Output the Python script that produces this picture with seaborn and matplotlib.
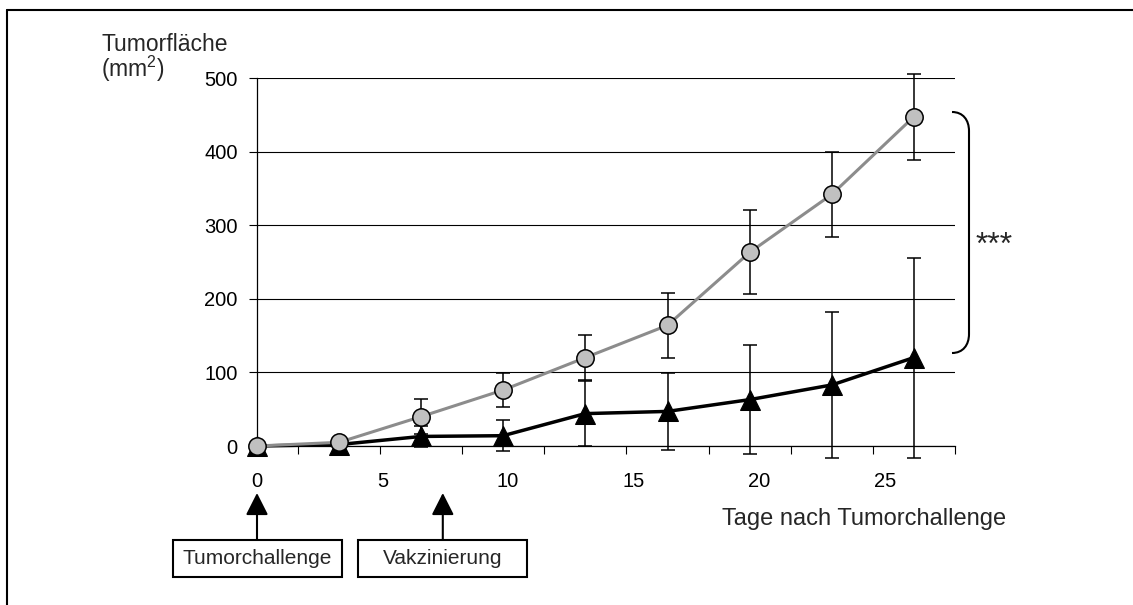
import numpy as np
import pandas as pd
import matplotlib
matplotlib.use("Agg")
import matplotlib.pyplot as plt
import seaborn as sns
from matplotlib.patches import Rectangle, PathPatch, FancyArrowPatch
from matplotlib.path import Path
from matplotlib.lines import Line2D

# Messtage (Tage nach Tumorchallenge) und Tumorflächen in mm² (Mittelwert ± SD)
messtage = [0.0, 3.27, 6.54, 9.8, 13.07, 16.35, 19.62, 22.9, 26.15]
kontrolle_mittel = [0, 5, 40, 76, 120, 164, 263, 342, 447]
kontrolle_sd = [0, 3, 24, 23, 31, 44, 57, 58, 58]
vakziniert_mittel = [0, 2, 13, 14, 44, 47, 63, 83, 120]
vakziniert_sd = [0, 1, 14, 21, 44, 52, 74, 99, 136]

tag_ticks = [0, 5, 10, 15, 20, 25]
flaeche_ticks = [0, 100, 200, 300, 400, 500]

ereignisse = ["Tumorchallenge", "Vakzinierung"]
ereignis_tage = [0, 7.4]

sns.set_theme(style="white")
plt.rcParams["font.family"] = ["Liberation Sans", "DejaVu Sans"]
plt.rcParams["mathtext.fontset"] = "custom"
plt.rcParams["mathtext.rm"] = "Liberation Sans"
plt.rcParams["mathtext.it"] = "Liberation Sans:italic"
plt.rcParams["mathtext.bf"] = "Liberation Sans:bold"

W, H = 1133, 605
fig = plt.figure(figsize=(W / 100, H / 100), dpi=100)
fig.patch.set_facecolor("white")


def fx(x):
    return x / W


def fy(y):
    return 1 - y / H


ax = fig.add_axes([fx(257), fy(446), (955 - 257) / W, (446 - 78) / H])
ax.set_facecolor("white")

df = pd.DataFrame({
    "Tag": messtage * 2,
    "Fläche": kontrolle_mittel + vakziniert_mittel,
    "Gruppe": ["Kontrolle"] * len(messtage) + ["vakziniert"] * len(messtage),
})

# Fehlerbalken unter den Linien und Markern
for mittel, sd in [(vakziniert_mittel, vakziniert_sd), (kontrolle_mittel, kontrolle_sd)]:
    eb = ax.errorbar(messtage, mittel, yerr=sd, fmt="none", ecolor="black",
                     elinewidth=1.1, capsize=5.2, capthick=1.1, zorder=3)
    for art in tuple(eb.lines[1]) + tuple(eb.lines[2]):
        art.set_clip_on(False)

sns.lineplot(data=df[df["Gruppe"] == "vakziniert"], x="Tag", y="Fläche", ax=ax,
             color="black", linewidth=2.5, marker="^", markersize=14.5,
             markerfacecolor="black", markeredgecolor="black", zorder=4,
             clip_on=False)
sns.lineplot(data=df[df["Gruppe"] == "Kontrolle"], x="Tag", y="Fläche", ax=ax,
             color="#8c8c8c", linewidth=2.2, marker="o", markersize=12.5,
             markerfacecolor="#c0c0c0", markeredgecolor="black",
             markeredgewidth=1.1, zorder=5, clip_on=False)

x_rechts = 27.8
ax.set_xlim(0, x_rechts)
ax.set_ylim(0, 500)
ax.set_xlabel("")
ax.set_ylabel("")

ax.set_xticks(tag_ticks)
ax.set_xticklabels([str(t) for t in tag_ticks])
tage = np.array(messtage)
ax.set_xticks(list((tage[:-1] + tage[1:]) / 2) + [x_rechts], minor=True)
ax.set_yticks(flaeche_ticks)
ax.set_yticklabels([str(v) for v in flaeche_ticks])

ax.tick_params(axis="x", which="major", bottom=True, length=0, pad=19,
               labelsize=14.5, labelcolor="black")
ax.tick_params(axis="x", which="minor", bottom=True, length=5.8, width=0.8,
               direction="out", color="black")
ax.tick_params(axis="y", which="major", left=True, length=5.8, width=0.8,
               direction="out", color="black", pad=8, labelsize=14.5,
               labelcolor="black")

ax.yaxis.grid(True, color="black", linewidth=0.8)
ax.xaxis.grid(False)
ax.set_axisbelow(True)
for side in ["top", "right"]:
    ax.spines[side].set_visible(False)
for side in ["left", "bottom"]:
    ax.spines[side].set_color("black")
    ax.spines[side].set_linewidth(0.9)

# Achsenbeschriftungen
fig.text(fx(101), fy(51), "Tumorfläche", size=16.5, ha="left", va="baseline")
fig.text(fx(101), fy(77), r"(mm$^{2}$)", size=16.5, ha="left", va="baseline")
fig.text(fx(722), fy(525), "Tage nach Tumorchallenge", size=17,
         ha="left", va="baseline")

# Signifikanzklammer
klammer = [(952, 112), (963, 112), (969, 120), (969, 131),
           (969, 334), (969, 345), (963, 353), (952, 353)]
codes = [Path.MOVETO, Path.CURVE4, Path.CURVE4, Path.CURVE4,
         Path.LINETO, Path.CURVE4, Path.CURVE4, Path.CURVE4]
fig.add_artist(PathPatch(Path([(fx(x), fy(y)) for x, y in klammer], codes),
                         fill=False, edgecolor="black", linewidth=1.5,
                         transform=fig.transFigure))
fig.text(fx(994), fy(254), "***", size=23, ha="center", va="baseline")

# Zeitpunkte: Tumorchallenge und Vakzinierung
for name, tag in zip(ereignisse, ereignis_tage):
    x_frac = ax.transData.transform((tag, 0))[0] / W
    fig.add_artist(FancyArrowPatch((x_frac, fy(540)), (x_frac, fy(493)),
                                   transform=fig.transFigure,
                                   arrowstyle="-|>,head_length=0.75,head_width=0.38",
                                   mutation_scale=18, linewidth=1.5,
                                   color="black", shrinkA=0, shrinkB=0))
    fig.add_artist(Rectangle((x_frac - 84.5 / W, fy(577)), 169 / W, 37 / H,
                             facecolor="white", edgecolor="black",
                             linewidth=1.5, transform=fig.transFigure))
    fig.text(x_frac, fy(558.5), name, size=15, ha="center", va="center")

# Rahmen
fig.add_artist(Line2D([fx(7), fx(7)], [fy(10), fy(605)], color="black",
                      linewidth=1.5, transform=fig.transFigure))
fig.add_artist(Line2D([fx(7), fx(1133)], [fy(10), fy(10)], color="black",
                      linewidth=1.5, transform=fig.transFigure))

fig.savefig("out.png", dpi=100, facecolor="white")
